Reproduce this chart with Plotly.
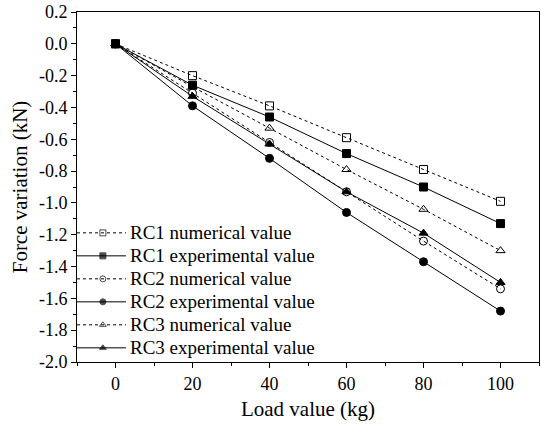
import plotly.graph_objects as go

loads = [0, 20, 40, 60, 80, 100]
rc1_num = [0.0, -0.20, -0.39, -0.59, -0.79, -0.99]
rc1_exp = [0.0, -0.26, -0.46, -0.69, -0.90, -1.13]
rc2_num = [0.0, -0.31, -0.62, -0.93, -1.24, -1.54]
rc2_exp = [0.0, -0.39, -0.72, -1.06, -1.37, -1.68]
rc3_num = [0.0, -0.27, -0.53, -0.79, -1.04, -1.30]
rc3_exp = [0.0, -0.33, -0.63, -0.93, -1.19, -1.50]

y_ticks = [round(-2.0 + 0.2 * i, 1) for i in range(12)]
y_ticktext = ["%.1f" % v for v in y_ticks]  # plain hyphen-minus

series = [
    ("RC1 numerical value", rc1_num, "dot", "square-open"),
    ("RC1 experimental value", rc1_exp, "solid", "square"),
    ("RC2 numerical value", rc2_num, "dot", "circle-open"),
    ("RC2 experimental value", rc2_exp, "solid", "circle"),
    ("RC3 numerical value", rc3_num, "dot", "triangle-up-open"),
    ("RC3 experimental value", rc3_exp, "solid", "triangle-up"),
]

font = "Liberation Serif"

fig = go.Figure()
for name, vals, dash, sym in series:
    fig.add_trace(go.Scatter(
        x=loads, y=vals, name=name, mode="lines+markers", showlegend=False,
        line=dict(color="black", width=1, dash=dash),
        marker=dict(symbol=sym, size=8, color="black",
                    line=dict(color="black", width=1)),
    ))

# Compact legend in the lower-left corner, drawn on a hidden unit overlay axis
leg_top, leg_step = 0.369, 0.0657
leg_x0, leg_xm, leg_x1, leg_text_x = 0.0, 0.056, 0.106, 0.110
for i, (name, vals, dash, sym) in enumerate(series):
    yr = leg_top - i * leg_step
    fig.add_trace(go.Scatter(
        x=[leg_x0, leg_xm, leg_x1], y=[yr, yr, yr], xaxis="x2", yaxis="y2",
        mode="lines+markers", showlegend=False, hoverinfo="skip",
        line=dict(color="black", width=1, dash=dash),
        marker=dict(symbol=sym, size=[0, 6, 0], color="black",
                    line=dict(color="black", width=1)),
    ))
    fig.add_annotation(
        x=leg_text_x, y=yr, xref="x2", yref="y2", text=name, showarrow=False,
        xanchor="left", yanchor="middle",
        font=dict(family=font, size=19, color="black"),
    )

axis_common = dict(
    showgrid=False, zeroline=False, showline=True, linecolor="black",
    linewidth=1, mirror=True, ticks="outside", ticklen=5, tickwidth=1,
    tickcolor="black", tickfont=dict(family=font, size=18, color="black"),
)
fig.update_layout(
    xaxis=dict(
        range=[-10, 110], tickvals=loads, ticktext=[str(v) for v in loads],
        minor=dict(ticks="outside", ticklen=3, dtick=10, tick0=0, tickcolor="black"),
        title=dict(text="Load value (kg)", font=dict(family=font, size=21, color="black"),
                   standoff=8),
        **axis_common,
    ),
    yaxis=dict(
        range=[-2.0, 0.2], tickvals=y_ticks, ticktext=y_ticktext,
        minor=dict(ticks="outside", ticklen=3, dtick=0.1, tick0=0, tickcolor="black"),
        title=dict(text="Force variation (kN)", font=dict(family=font, size=21, color="black"),
                   standoff=5),
        **axis_common,
    ),
    xaxis2=dict(overlaying="x", range=[0, 1], visible=False, fixedrange=True),
    yaxis2=dict(overlaying="y", range=[0, 1], visible=False, fixedrange=True),
    width=541, height=428,
    margin=dict(l=77, r=2, t=12, b=66),
    plot_bgcolor="white", paper_bgcolor="white",
    font=dict(family=font, color="black"),
    showlegend=False,
)
fig.write_html("out.html")
